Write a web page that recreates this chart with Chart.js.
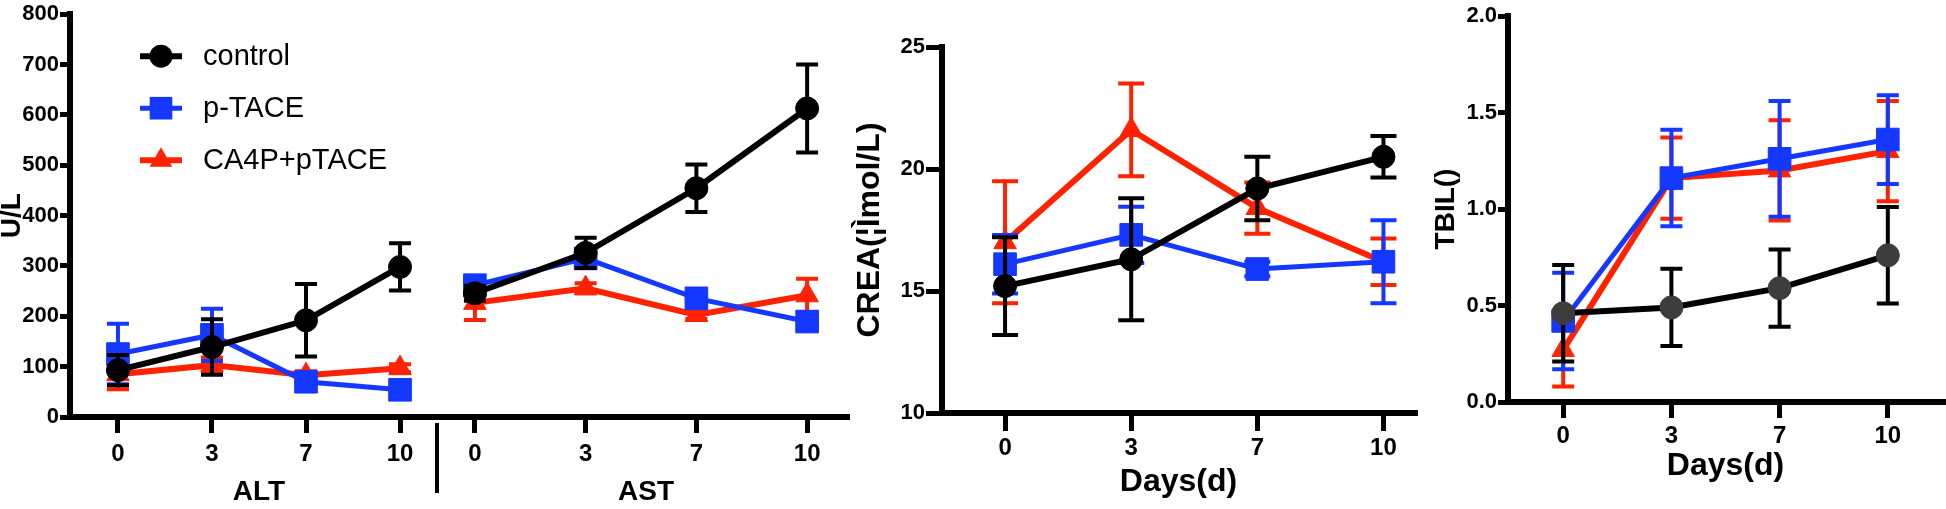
<!DOCTYPE html>
<html>
<head>
<meta charset="utf-8">
<script src="https://cdn.jsdelivr.net/npm/chart.js@4.4.0/dist/chart.umd.min.js"></script>
<style>
body { margin: 0; background: #fff; width: 1946px; height: 509px; overflow: hidden; position: relative; }
.box { position: absolute; top: 0; }
#sep { position: absolute; left: 435px; top: 423px; width: 4px; height: 70px; background: #000; }
</style>
</head>
<body>
<div class="box" style="left:0px"><canvas id="altChart" width="452" height="509"></canvas></div>
<div class="box" style="left:445px"><canvas id="astChart" width="410" height="509"></canvas></div>
<div class="box" style="left:850px"><canvas id="creaChart" width="575" height="509"></canvas></div>
<div class="box" style="left:1425px"><canvas id="tbilChart" width="521" height="509"></canvas></div>
<div id="sep"></div>
<script>
// DATA
var days = ['0', '3', '7', '10'];
var seriesNames = ['control', 'p-TACE', 'CA4P+pTACE'];

var altControl = [93, 139, 192, 298];
var altControlErr = [30, 55, 72, 47];
var altPTACE = [125, 163, 70, 54];
var altPTACEErr = [60, 52, 10, 8];
var altCA4P = [85, 103, 83, 97];
var altCA4PErr = [30, 15, 8, 8];

var astControl = [245, 325, 453, 611];
var astControlErr = [15, 30, 47, 87];
var astPTACE = [261, 314, 235, 189];
var astPTACEErr = [10, 12, 10, 8];
var astCA4P = [226, 255, 202, 241];
var astCA4PErr = [34, 10, 8, 33];

var creaControl = [15.2, 16.3, 19.2, 20.5];
var creaControlErr = [2.0, 2.5, 1.3, 0.85];
var creaPTACE = [16.1, 17.3, 15.9, 16.2];
var creaPTACEErr = [1.2, 1.15, 0.3, 1.7];
var creaCA4P = [17.0, 21.6, 18.4, 16.2];
var creaCA4PErr = [2.5, 1.9, 1.05, 0.95];

var tbilControl = [0.46, 0.49, 0.59, 0.76];
var tbilControlErr = [0.25, 0.2, 0.2, 0.25];
var tbilPTACE = [0.42, 1.16, 1.26, 1.36];
var tbilPTACEErr = [0.25, 0.25, 0.3, 0.23];
var tbilCA4P = [0.27, 1.16, 1.2, 1.3];
var tbilCA4PErr = [0.19, 0.21, 0.26, 0.26];

//STYLE CONFIG
var colors = ['#000000', '#1438ff', '#ff2200'];
var pointStyles = ['circle', 'rect', 'triangle'];
var pointRadius = [11.5, 16, 13];
var lineWidths = [6, 5, 6];
var sans = "'Liberation Sans', Arial, sans-serif";
Chart.defaults.font.family = sans;

function makeDatasets(valueLists, errLists, controlFill) {
    return valueLists.map(function(vals, s) {
        return {
            label: seriesNames[s],
            data: vals.map(function(v, i) { return { x: i, y: v }; }),
            errors: errLists[s],
            borderColor: colors[s],
            backgroundColor: (s === 0 && controlFill) ? controlFill : colors[s],
            pointBorderColor: (s === 0 && controlFill) ? controlFill : colors[s],
            borderWidth: lineWidths[s],
            pointStyle: pointStyles[s],
            pointRadius: pointRadius[s],
            pointBorderWidth: 1,
            tension: 0
        };
    });
}

//ERROR BARS, DRAWN UNDER EACH DATASET'S MARKERS
var errorBars = {
    id: 'errorBars',
    beforeDatasetDraw: function(chart, args) {
        var ds = chart.data.datasets[args.index];
        var yScale = chart.scales.y;
        var ctx = chart.ctx;
        var capW = chart.options.plugins.errorBars.capWidth;
        ctx.save();
        ctx.strokeStyle = ds.borderColor;
        ctx.lineWidth = chart.options.plugins.errorBars.lineWidth;
        args.meta.data.forEach(function(pt, i) {
            var v = ds.data[i].y;
            var e = ds.errors[i];
            var top = yScale.getPixelForValue(v + e);
            var bot = yScale.getPixelForValue(v - e);
            ctx.beginPath();
            ctx.moveTo(pt.x, top);
            ctx.lineTo(pt.x, bot);
            ctx.moveTo(pt.x - capW / 2, top);
            ctx.lineTo(pt.x + capW / 2, top);
            ctx.moveTo(pt.x - capW / 2, bot);
            ctx.lineTo(pt.x + capW / 2, bot);
            ctx.stroke();
        });
        ctx.restore();
    }
};

function drawMarker(ctx, style, x, y, r, color) {
    ctx.fillStyle = color;
    ctx.beginPath();
    if (style === 'circle') {
        ctx.arc(x, y, r, 0, Math.PI * 2);
    } else if (style === 'rect') {
        var h = Math.SQRT1_2 * r;
        ctx.rect(x - h, y - h, 2 * h, 2 * h);
    } else {
        ctx.moveTo(x, y - r);
        ctx.lineTo(x + 0.866 * r, y + 0.5 * r);
        ctx.lineTo(x - 0.866 * r, y + 0.5 * r);
        ctx.closePath();
    }
    ctx.fill();
}

//LEGEND INSIDE THE ALT PLOT
var legendInside = {
    id: 'legendInside',
    afterDraw: function(chart) {
        var ctx = chart.ctx;
        var a = chart.chartArea;
        ctx.save();
        chart.data.datasets.forEach(function(ds, s) {
            var y = a.top + 42 + s * 52;
            var x0 = a.left + 70;
            ctx.strokeStyle = ds.borderColor;
            ctx.lineWidth = ds.borderWidth;
            ctx.beginPath();
            ctx.moveTo(x0, y);
            ctx.lineTo(x0 + 42, y);
            ctx.stroke();
            drawMarker(ctx, ds.pointStyle, x0 + 21, y, ds.pointRadius, ds.backgroundColor);
            ctx.fillStyle = '#000';
            ctx.font = '29px ' + sans;
            ctx.textBaseline = 'middle';
            ctx.fillText(ds.label, x0 + 63, y + 1);
        });
        ctx.restore();
    }
};

function xScale(min, max, tickLen, pad, title, titleSize, titlePadBottom, height) {
    return {
        type: 'linear',
        min: min,
        max: max,
        afterBuildTicks: function(s) { s.ticks = days.map(function(d, i) { return { value: i }; }); },
        afterFit: function(s) { s.height = height; },
        grid: { display: true, drawOnChartArea: false, drawTicks: true, tickLength: tickLen, lineWidth: 5, color: '#000' },
        border: { display: true, width: 6, color: '#000' },
        ticks: {
            color: '#000', padding: pad, maxRotation: 0, autoSkip: false,
            font: { family: sans, weight: 'bold', size: 24 },
            callback: function(v) { return days[v]; }
        },
        title: { display: true, text: title, color: '#000', padding: { top: 0, bottom: titlePadBottom },
                 font: { family: sans, weight: 'bold', size: titleSize, lineHeight: 1 } }
    };
}

function yScale(min, max, step, tickLen, title, titleSize, titlePadTop, width, fmt) {
    return {
        min: min,
        max: max,
        afterFit: function(s) { s.width = width; },
        grid: { display: true, drawOnChartArea: false, drawTicks: true, tickLength: tickLen, lineWidth: 5, color: '#000' },
        border: { display: true, width: 6, color: '#000' },
        ticks: {
            stepSize: step, color: '#000', padding: 1,
            font: { family: sans, weight: 'bold', size: 22 },
            callback: fmt
        },
        title: { display: true, text: title, color: '#000', padding: { top: titlePadTop, bottom: 0 },
                 font: { family: sans, weight: 'bold', size: titleSize, lineHeight: 0.9 } }
    };
}

function baseOptions(padding, scales, errCap) {
    return {
        animation: false,
        responsive: false,
        layout: { padding: padding, autoPadding: false },
        plugins: {
            legend: { display: false },
            tooltip: { enabled: false },
            errorBars: { capWidth: errCap, lineWidth: 4 }
        },
        scales: scales
    };
}

//ALT
var altScaleY = yScale(0, 800, 100, 10, 'U/L', 28, 0, 70, function(v) { return v; });
new Chart(document.getElementById('altChart').getContext('2d'), {
    type: 'line',
    data: { datasets: makeDatasets([altControl, altPTACE, altCA4P], [altControlErr, altPTACEErr, altCA4PErr]) },
    options: baseOptions({ top: 13, right: 4, left: 0, bottom: 0 }, {
        x: xScale(-0.51, 3.51, 16, 7, 'ALT', 28, 3, 92),
        y: altScaleY
    }, 22),
    plugins: [errorBars, legendInside]
});

//AST (SAME Y RANGE, NO Y AXIS)
var astScaleY = yScale(0, 800, 100, 10, '', 30, 0, 0, function(v) { return v; });
astScaleY.display = false;
new Chart(document.getElementById('astChart').getContext('2d'), {
    type: 'line',
    data: { datasets: makeDatasets([astControl, astPTACE, astCA4P], [astControlErr, astPTACEErr, astCA4PErr]) },
    options: baseOptions({ top: 13, right: 8, left: 0, bottom: 0 }, {
        x: xScale(-0.27, 3.36, 16, 7, 'AST', 28, 3, 92),
        y: astScaleY
    }, 22),
    plugins: [errorBars]
});

//CREA
new Chart(document.getElementById('creaChart').getContext('2d'), {
    type: 'line',
    data: { datasets: makeDatasets([creaControl, creaPTACE, creaCA4P], [creaControlErr, creaPTACEErr, creaCA4PErr]) },
    options: baseOptions({ top: 47, right: 10, left: 0, bottom: 0 }, {
        x: xScale(-0.5, 3.25, 18, 3, 'Days(d)', 32, 11, 96),
        y: yScale(10, 25, 5, 16, 'CREA(¦Ìmol/L)', 32, 6, 92, function(v) { return v; })
    }, 26),
    plugins: [errorBars]
});

//TBIL
new Chart(document.getElementById('tbilChart').getContext('2d'), {
    type: 'line',
    data: { datasets: makeDatasets([tbilControl, tbilPTACE, tbilCA4P], [tbilControlErr, tbilPTACEErr, tbilCA4PErr], '#3d3d3d') },
    options: baseOptions({ top: 16, right: 3, left: 0, bottom: 0 }, {
        x: xScale(-0.51, 3.51, 16, 4, 'Days(d)', 32, 27, 107),
        y: yScale(0, 2, 0.5, 10, 'TBIL()', 28, 9, 83, function(v) { return v.toFixed(1); })
    }, 22),
    plugins: [errorBars]
});
</script>
</body>
</html>
